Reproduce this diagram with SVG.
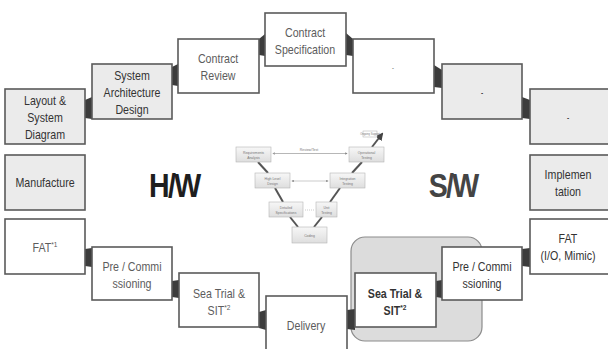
<svg xmlns="http://www.w3.org/2000/svg" width="608" height="349" viewBox="0 0 608 349">
<defs>
<style>
.box{stroke:#5a5a5a;stroke-width:1.6}
.g{fill:#ebebeb}
.w{fill:#ffffff}
.t{font-family:"Liberation Sans",Arial,sans-serif;font-size:13px;text-anchor:middle;transform-box:fill-box;transform-origin:center;transform:scaleX(0.82)}
.td{fill:#333}
.tl{fill:#5c5c5c}
.big{font-family:"Liberation Sans",Arial,sans-serif;font-size:34px;font-weight:bold;text-anchor:middle;letter-spacing:-2px;transform-box:fill-box;transform-origin:center;transform:scaleX(0.84)}
.conn{fill:#3c3c3c}
.vb{fill:url(#vg);stroke:#b5b5b5;stroke-width:0.6}
.vt{font-family:"Liberation Sans",Arial,sans-serif;font-size:3.4px;fill:#777;text-anchor:middle}
.vl{stroke:#555;stroke-width:2}
.va{stroke:#aaa;stroke-width:0.6;fill:none}
</style>
<linearGradient id="vg" x1="0" y1="0" x2="0" y2="1"><stop offset="0" stop-color="#f7f7f7"/><stop offset="1" stop-color="#dedede"/></linearGradient>
<marker id="ah" markerWidth="4" markerHeight="4" refX="3" refY="2" orient="auto"><path d="M0,0 L4,2 L0,4 z" fill="#888"/></marker>
<marker id="ahb" markerWidth="4" markerHeight="4" refX="3" refY="2" orient="auto"><path d="M0,0 L4,2 L0,4 z" fill="#444"/></marker>
</defs>
<rect width="608" height="349" fill="#fff"/>

<!-- highlight background -->
<rect x="351" y="237" width="131" height="104" rx="14" fill="#dcdcdc" stroke="#8c8c8c" stroke-width="1.2"/>

<!-- connectors -->
<g id="connectors">
<polygon class="conn" points="85,100 92,97 92,119 85,118"/>
<polygon class="conn" points="172,67 178,64 178,86 172,85"/>
<polygon class="conn" points="259,39 265,34 265,56 259,55"/>
<polygon class="conn" points="346,33 353,39 353,56 346,55"/>
<polygon class="conn" points="434,65 442,70 442,88 434,87"/>
<polygon class="conn" points="522,97 530,100 530,119 522,118"/>
<polygon class="conn" points="85,249 92,248 92,267 85,266"/>
<polygon class="conn" points="172,281 179,280 179,298 172,297"/>
<polygon class="conn" points="259,312 266,310 266,330 259,328"/>
<polygon class="conn" points="347,310 355,309 355,330 347,329"/>
<polygon class="conn" points="436,281 442,280 442,298 436,297"/>
<polygon class="conn" points="522,249 530,248 530,267 522,266"/>
</g>

<!-- top arc -->
<g id="layout"><rect class="box g" x="5" y="89" width="80" height="55"/>
<text class="t td" x="45" y="105">Layout &amp;</text><text class="t td" x="45" y="122">System</text><text class="t td" x="45" y="139">Diagram</text></g>
<g id="sysarch"><rect class="box g" x="92" y="64" width="80" height="55"/>
<text class="t td" x="132" y="80">System</text><text class="t td" x="132" y="97">Architecture</text><text class="t td" x="132" y="114">Design</text></g>
<g id="contractreview"><rect class="box w" x="178" y="39" width="81" height="54"/>
<text class="t tl" x="218" y="63">Contract</text><text class="t tl" x="218" y="80">Review</text></g>
<g id="contractspec"><rect class="box w" x="265" y="13" width="81" height="53"/>
<text class="t tl" x="305" y="37">Contract</text><text class="t tl" x="305" y="54">Specification</text></g>
<g id="blank1"><rect class="box w" x="353" y="39" width="81" height="54"/>
<text class="t tl" x="393" y="70" style="font-size:7px">-</text></g>
<g id="blank2"><rect class="box g" x="442" y="64" width="80" height="55"/>
<text class="t td" x="482" y="95" style="font-size:8px;font-weight:bold">-</text></g>
<g id="blank3"><rect class="box g" x="530" y="89" width="80" height="55"/>
<text class="t td" x="568" y="120" style="font-size:8px;font-weight:bold">-</text></g>

<!-- middle row -->
<g id="manufacture"><rect class="box g" x="5" y="155" width="80" height="55"/>
<text class="t td" x="45" y="187">Manufacture</text></g>
<text class="big" x="174" y="197" fill="#1e1e1e">H/W</text>
<text class="big" x="453" y="197" fill="#444">S/W</text>
<g id="implementation"><rect class="box g" x="530" y="155" width="80" height="55"/>
<text class="t td" x="568" y="179">Implemen</text><text class="t td" x="568" y="196">tation</text></g>

<!-- bottom arc -->
<g id="fat1"><rect class="box w" x="5" y="219" width="80" height="55"/>
<text class="t tl" x="45" y="252">FAT<tspan font-size="8" dy="-5">*1</tspan></text></g>
<g id="precomm1"><rect class="box w" x="92" y="247" width="80" height="53"/>
<text class="t tl" x="132" y="271">Pre / Commi</text><text class="t tl" x="132" y="288">ssioning</text></g>
<g id="seatrial1"><rect class="box w" x="179" y="273" width="80" height="54"/>
<text class="t tl" x="219" y="298">Sea Trial &amp;</text><text class="t tl" x="219" y="315">SIT<tspan font-size="8" dy="-5">*2</tspan></text></g>
<g id="delivery"><rect class="box w" x="266" y="296" width="81" height="58"/>
<text class="t tl" x="306" y="330">Delivery</text></g>
<g id="seatrial2"><rect class="box w" x="355" y="273" width="81" height="54"/>
<text class="t td" x="395" y="298" font-weight="bold">Sea Trial &amp;</text><text class="t td" x="395" y="315" font-weight="bold">SIT<tspan font-size="8" dy="-5">*2</tspan></text></g>
<g id="precomm2"><rect class="box w" x="442" y="247" width="80" height="53"/>
<text class="t td" x="482" y="271">Pre / Commi</text><text class="t td" x="482" y="288">ssioning</text></g>
<g id="fat2"><rect class="box w" x="530" y="219" width="80" height="55"/>
<text class="t td" x="568" y="243">FAT</text><text class="t td" x="568" y="260">(I/O, Mimic)</text></g>

<!-- V-model -->
<g id="vmodel">
<line class="vl" x1="258" y1="162" x2="268" y2="173"/>
<line class="vl" x1="275" y1="188" x2="283" y2="202"/>
<line class="vl" x1="290" y1="217" x2="298" y2="227"/>
<line class="vl" x1="314" y1="227" x2="322" y2="217"/>
<line class="vl" x1="330" y1="202" x2="340" y2="188"/>
<line class="vl" x1="352" y1="173" x2="362" y2="162"/>
<line class="vl" x1="372" y1="147" x2="382" y2="134" marker-end="url(#ahb)"/>
<line class="va" x1="347" y1="153.5" x2="273" y2="153.5" marker-end="url(#ah)"/>
<line class="va" x1="273" y1="153.5" x2="347" y2="153.5" marker-end="url(#ah)"/>
<line class="va" x1="292" y1="181" x2="328" y2="181" stroke-dasharray="1,1" marker-end="url(#ah)"/>
<line class="va" x1="328" y1="181" x2="292" y2="181" stroke-dasharray="1,1" marker-end="url(#ah)"/>
<line class="va" x1="305" y1="210" x2="314" y2="210" stroke-dasharray="1,1"/>
<text class="vt" x="309" y="151">Review/Test</text>
<rect x="363" y="131" width="14" height="6" fill="#fff" stroke="#aaa" stroke-width="0.5"/>
<text class="vt" x="370" y="135" style="font-size:2.6px">Ongoing Support</text>
<rect class="vb" x="236" y="147" width="35" height="15"/><text class="vt" x="253.5" y="154">Requirements</text><text class="vt" x="253.5" y="158.5">Analysis</text>
<rect class="vb" x="349" y="147" width="35" height="15"/><text class="vt" x="366.5" y="154">Operational</text><text class="vt" x="366.5" y="158.5">Testing</text>
<rect class="vb" x="255" y="173" width="35" height="15"/><text class="vt" x="272.5" y="180">High Level</text><text class="vt" x="272.5" y="184.5">Design</text>
<rect class="vb" x="330" y="173" width="35" height="15"/><text class="vt" x="347.5" y="180">Integration</text><text class="vt" x="347.5" y="184.5">Testing</text>
<rect class="vb" x="269" y="202" width="34" height="15"/><text class="vt" x="286" y="209">Detailed</text><text class="vt" x="286" y="213.5">Specifications</text>
<rect class="vb" x="316" y="202" width="21" height="15"/><text class="vt" x="326.5" y="209">Unit</text><text class="vt" x="326.5" y="213.5">Testing</text>
<rect class="vb" x="292" y="227" width="35" height="16"/><text class="vt" x="309.5" y="236.5">Coding</text>
</g>
</svg>
